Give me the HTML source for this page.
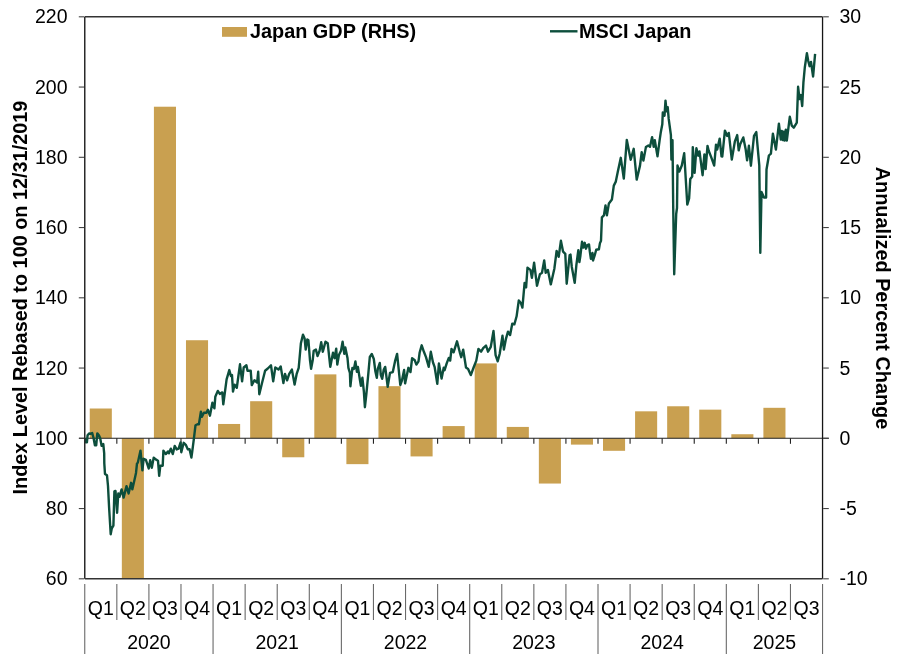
<!DOCTYPE html><html><head><meta charset="utf-8"><style>html,body{margin:0;padding:0;background:#fff;}svg{display:block;}text{font-family:"Liberation Sans",sans-serif;}</style></head><body>
<div style="will-change:transform"><svg width="900" height="654" viewBox="0 0 900 654">
<rect width="900" height="654" fill="#fff"/>
<g fill="#C9A050">
<rect x="89.75" y="408.51" width="22.08" height="29.79"/>
<rect x="121.83" y="438.30" width="22.08" height="140.50"/>
<rect x="153.91" y="106.72" width="22.08" height="331.58"/>
<rect x="185.98" y="340.23" width="22.08" height="98.07"/>
<rect x="218.06" y="423.97" width="22.08" height="14.33"/>
<rect x="250.14" y="401.21" width="22.08" height="37.09"/>
<rect x="282.22" y="438.30" width="22.08" height="18.97"/>
<rect x="314.30" y="374.37" width="22.08" height="63.93"/>
<rect x="346.38" y="438.30" width="22.08" height="25.85"/>
<rect x="378.45" y="386.17" width="22.08" height="52.13"/>
<rect x="410.53" y="438.30" width="22.08" height="18.12"/>
<rect x="442.61" y="426.08" width="22.08" height="12.22"/>
<rect x="474.69" y="363.41" width="22.08" height="74.89"/>
<rect x="506.77" y="426.92" width="22.08" height="11.38"/>
<rect x="538.85" y="438.30" width="22.08" height="45.24"/>
<rect x="570.92" y="438.30" width="22.08" height="6.32"/>
<rect x="603.00" y="438.30" width="22.08" height="12.50"/>
<rect x="635.08" y="411.32" width="22.08" height="26.98"/>
<rect x="667.16" y="406.27" width="22.08" height="32.03"/>
<rect x="699.24" y="409.64" width="22.08" height="28.66"/>
<rect x="731.32" y="434.23" width="22.08" height="4.07"/>
<rect x="763.39" y="407.81" width="22.08" height="30.49"/>
</g>
<g stroke="#222" stroke-width="1.1" fill="none">
<path d="M79,438.30H828.8"/>
<path d="M116.83,438.30V443.80"/>
<path d="M148.91,438.30V443.80"/>
<path d="M180.98,438.30V443.80"/>
<path d="M213.06,438.30V443.80"/>
<path d="M245.14,438.30V443.80"/>
<path d="M277.22,438.30V443.80"/>
<path d="M309.30,438.30V443.80"/>
<path d="M341.38,438.30V443.80"/>
<path d="M373.45,438.30V443.80"/>
<path d="M405.53,438.30V443.80"/>
<path d="M437.61,438.30V443.80"/>
<path d="M469.69,438.30V443.80"/>
<path d="M501.77,438.30V443.80"/>
<path d="M533.85,438.30V443.80"/>
<path d="M565.92,438.30V443.80"/>
<path d="M598.00,438.30V443.80"/>
<path d="M630.08,438.30V443.80"/>
<path d="M662.16,438.30V443.80"/>
<path d="M694.24,438.30V443.80"/>
<path d="M726.32,438.30V443.80"/>
<path d="M758.39,438.30V443.80"/>
<path d="M790.47,438.30V443.80"/>
</g>
<path d="M85.1,437.9 L85.8,442.3 L86.9,442.3 L87.6,435.2 L89.1,433.4 L90.4,433.9 L92.2,433.0 L93.6,438.3 L94.9,445.4 L96.2,445.4 L97.3,433.4 L98.9,435.2 L100.2,438.3 L101.6,445.9 L103.3,444.1 L104.2,453.4 L104.3,463.3 L105.0,474.0 L107.0,475.3 L108.0,486.0 L109.1,507.4 L110.2,525.6 L110.7,534.2 L111.8,528.3 L113.4,525.6 L114.4,491.4 L115.5,490.9 L117.1,512.8 L118.3,493.5 L119.5,496.8 L121.6,489.4 L123.6,497.6 L126.5,486.1 L128.6,493.5 L131.1,482.8 L132.3,489.4 L134.4,480.3 L136.0,472.9 L137.0,463.5 L137.8,462.7 L140.5,450.6 L142.4,470.4 L143.6,458.8 L145.9,459.9 L148.7,468.5 L150.2,460.3 L151.8,467.7 L153.7,457.6 L156.1,459.6 L158.0,460.7 L159.2,475.9 L160.3,465.8 L162.7,465.8 L163.4,450.6 L165.8,454.1 L168.1,451.4 L168.9,453.3 L170.8,448.7 L172.8,454.1 L174.7,445.9 L176.7,449.4 L178.6,448.7 L180.6,442.4 L181.3,452.2 L183.7,442.8 L186.0,445.2 L187.9,449.4 L189.5,449.1 L191.4,457.6 L192.2,451.8 L193.8,439.3 L195.5,425.2 L197.5,424.2 L198.9,424.2 L200.9,411.8 L201.9,416.7 L203.9,412.7 L206.4,412.7 L207.9,409.8 L209.9,415.7 L212.4,402.8 L214.4,408.3 L215.3,396.8 L217.8,390.9 L219.8,393.9 L222.3,392.4 L223.3,404.3 L226.6,379.3 L229.3,370.1 L230.9,376.0 L232.0,375.0 L233.0,391.6 L234.6,384.6 L236.8,387.8 L238.4,376.0 L240.0,364.3 L242.1,381.4 L243.7,367.5 L246.4,365.3 L247.5,370.7 L250.7,370.7 L251.8,385.1 L254.4,380.3 L257.1,382.5 L258.2,371.8 L259.3,394.2 L261.9,383.5 L265.1,370.7 L267.8,368.5 L271.0,365.3 L273.2,381.4 L275.3,367.5 L278.5,369.6 L280.7,366.4 L283.4,383.0 L285.0,373.9 L287.1,380.3 L289.2,373.9 L291.9,369.6 L294.6,384.6 L296.6,374.2 L298.7,367.8 L300.9,343.2 L303.0,334.6 L304.6,338.4 L305.7,349.6 L307.3,339.5 L308.4,340.0 L310.0,360.3 L311.1,368.9 L312.7,360.3 L313.7,350.7 L315.9,349.6 L317.5,356.0 L319.6,350.7 L321.2,342.1 L322.8,351.8 L325.5,341.6 L327.7,343.2 L330.3,366.8 L333.0,352.8 L334.6,358.2 L336.2,348.6 L337.3,364.6 L338.9,355.0 L341.0,350.7 L342.6,341.6 L344.3,353.9 L345.3,347.5 L347.5,358.0 L348.4,367.9 L349.9,372.9 L350.4,386.3 L352.4,367.9 L353.9,368.9 L355.4,361.4 L356.9,371.9 L357.9,366.9 L359.9,379.8 L360.9,385.8 L362.4,377.8 L363.9,391.8 L364.9,407.2 L366.3,394.7 L368.3,373.9 L369.8,357.0 L371.8,354.0 L373.8,359.0 L375.3,370.9 L376.8,377.8 L377.8,368.9 L379.8,362.9 L380.8,374.9 L382.2,378.8 L383.7,369.9 L385.2,366.9 L387.7,386.8 L390.0,372.9 L392.8,372.1 L395.0,361.4 L397.1,353.9 L400.3,385.0 L401.9,380.7 L404.1,370.0 L405.1,383.4 L408.4,367.8 L410.5,372.1 L412.1,358.2 L414.8,360.3 L416.4,364.6 L418.5,361.4 L419.6,352.8 L421.7,345.3 L423.9,351.8 L426.0,357.1 L428.7,366.8 L430.8,351.8 L433.0,362.5 L434.6,366.8 L437.3,383.9 L438.9,363.5 L441.6,378.5 L443.7,367.8 L444.6,370.2 L446.7,363.4 L448.8,357.9 L450.2,360.6 L451.5,348.9 L453.6,352.3 L457.0,341.3 L459.8,352.3 L461.2,357.2 L463.2,349.6 L466.0,367.5 L468.1,368.9 L470.8,375.1 L473.6,367.5 L476.3,360.6 L478.4,348.9 L481.1,351.7 L483.2,348.2 L486.0,345.5 L488.0,351.7 L490.8,346.8 L493.5,331.0 L495.6,355.1 L497.7,361.3 L499.7,353.7 L502.5,335.8 L503.9,349.6 L506.0,338.6 L508.0,331.7 L510.1,335.1 L512.3,323.6 L514.4,324.3 L516.6,316.3 L518.8,300.4 L521.0,303.3 L522.4,307.6 L524.6,282.9 L526.1,287.3 L527.5,267.7 L530.4,269.9 L531.9,277.9 L534.1,262.6 L537.0,285.8 L539.9,274.2 L542.0,272.8 L544.2,260.4 L545.7,272.8 L547.9,269.9 L550.8,284.4 L554.4,268.4 L556.6,251.0 L558.7,256.8 L560.9,240.8 L563.1,251.7 L565.3,253.9 L566.7,283.7 L569.6,255.3 L570.5,254.6 L571.8,267.0 L574.7,282.9 L576.4,264.8 L578.3,250.3 L579.4,262.1 L580.4,255.7 L582.0,241.8 L583.4,247.6 L584.7,242.8 L586.0,248.7 L587.4,245.0 L589.0,244.4 L589.8,251.4 L590.9,258.9 L592.5,253.0 L593.0,260.5 L594.6,255.7 L596.2,249.8 L598.9,249.3 L599.9,243.4 L601.0,240.7 L601.9,217.4 L603.9,215.4 L605.5,205.4 L606.9,215.4 L608.9,203.4 L611.9,199.5 L613.8,185.6 L615.8,181.6 L617.8,171.7 L620.8,157.8 L623.8,178.6 L626.8,139.9 L630.7,159.7 L633.7,148.8 L636.7,179.6 L640.0,165.6 L641.7,152.2 L643.4,160.6 L645.9,147.1 L648.4,145.5 L650.0,146.7 L652.1,137.1 L653.7,146.7 L654.8,140.3 L657.5,156.4 L659.6,140.3 L660.7,132.8 L662.3,124.3 L662.8,112.5 L664.5,115.7 L665.5,100.7 L666.6,111.4 L667.7,107.1 L668.7,118.9 L670.9,135.0 L671.4,159.6 L672.5,140.3 L673.2,205.9 L674.2,274.3 L676.2,214.0 L677.0,208.0 L677.5,165.5 L679.3,171.6 L681.8,165.5 L684.2,153.2 L687.3,204.6 L689.1,198.5 L690.3,178.9 L692.2,176.5 L692.8,147.1 L694.6,172.8 L696.4,148.3 L698.3,155.7 L699.5,151.4 L702.6,175.2 L704.4,154.4 L705.6,169.1 L707.5,145.9 L708.7,150.8 L711.1,156.9 L714.2,165.5 L716.0,144.7 L717.2,149.6 L719.7,138.6 L721.5,156.3 L722.3,156.5 L724.9,130.6 L727.2,135.9 L728.8,132.9 L731.8,159.6 L734.9,141.3 L737.2,135.1 L738.7,150.4 L740.2,144.3 L743.3,137.4 L745.6,148.9 L747.1,160.4 L748.9,145.8 L750.9,165.7 L754.0,135.9 L756.3,132.1 L759.3,165.7 L760.3,252.8 L761.5,192.0 L764.0,197.6 L766.1,197.6 L766.5,169.5 L768.9,155.5 L770.9,153.6 L772.9,133.7 L775.9,149.6 L778.9,123.7 L780.8,139.6 L781.8,131.0 L782.8,140.0 L783.8,131.7 L784.6,140.6 L785.8,129.7 L786.8,140.6 L789.8,116.8 L791.8,125.7 L793.8,127.7 L796.8,122.7 L798.1,86.8 L799.5,99.0 L800.9,95.1 L802.2,106.0 L803.4,82.7 L804.8,67.5 L806.9,53.1 L808.2,60.7 L809.6,66.2 L811.0,62.0 L813.1,76.5 L815.1,53.8" fill="none" stroke="#0D4E3C" stroke-width="2.4" stroke-linejoin="round"/>
<g fill="none">
<path d="M84.75,16.8V578.8" stroke="#2a2a2a" stroke-width="1.5"/>
<path d="M822.55,16.8V578.8" stroke="#151515" stroke-width="1.3"/>
<path d="M84.75,16.8H822.55" stroke="#333" stroke-width="1.5"/>
<path d="M84.75,578.8H822.55" stroke="#333" stroke-width="1.5"/>
<path d="M78.8,16.80H84.05" stroke="#444" stroke-width="1.1"/><path d="M823.15,16.80H828.8" stroke="#444" stroke-width="1.1"/>
<path d="M78.8,87.05H84.05" stroke="#444" stroke-width="1.1"/><path d="M823.15,87.05H828.8" stroke="#444" stroke-width="1.1"/>
<path d="M78.8,157.30H84.05" stroke="#444" stroke-width="1.1"/><path d="M823.15,157.30H828.8" stroke="#444" stroke-width="1.1"/>
<path d="M78.8,227.55H84.05" stroke="#444" stroke-width="1.1"/><path d="M823.15,227.55H828.8" stroke="#444" stroke-width="1.1"/>
<path d="M78.8,297.80H84.05" stroke="#444" stroke-width="1.1"/><path d="M823.15,297.80H828.8" stroke="#444" stroke-width="1.1"/>
<path d="M78.8,368.05H84.05" stroke="#444" stroke-width="1.1"/><path d="M823.15,368.05H828.8" stroke="#444" stroke-width="1.1"/>
<path d="M78.8,438.30H84.05" stroke="#444" stroke-width="1.1"/><path d="M823.15,438.30H828.8" stroke="#444" stroke-width="1.1"/>
<path d="M78.8,508.55H84.05" stroke="#444" stroke-width="1.1"/><path d="M823.15,508.55H828.8" stroke="#444" stroke-width="1.1"/>
<path d="M78.8,578.80H84.05" stroke="#444" stroke-width="1.1"/><path d="M823.15,578.80H828.8" stroke="#444" stroke-width="1.1"/>
</g>
<g stroke="#6a6a6a" stroke-width="1.1" fill="none">
<path d="M84.75,584V654"/>
<path d="M116.83,584V620"/>
<path d="M148.91,584V620"/>
<path d="M180.98,584V620"/>
<path d="M213.06,584V654"/>
<path d="M245.14,584V620"/>
<path d="M277.22,584V620"/>
<path d="M309.30,584V620"/>
<path d="M341.38,584V654"/>
<path d="M373.45,584V620"/>
<path d="M405.53,584V620"/>
<path d="M437.61,584V620"/>
<path d="M469.69,584V654"/>
<path d="M501.77,584V620"/>
<path d="M533.85,584V620"/>
<path d="M565.92,584V620"/>
<path d="M598.00,584V654"/>
<path d="M630.08,584V620"/>
<path d="M662.16,584V620"/>
<path d="M694.24,584V620"/>
<path d="M726.32,584V654"/>
<path d="M758.39,584V620"/>
<path d="M790.47,584V620"/>
<path d="M822.55,584V654"/>
</g>
<g font-size="19.5" fill="#000">
<text x="67.5" y="23.40" text-anchor="end">220</text>
<text x="67.5" y="93.65" text-anchor="end">200</text>
<text x="67.5" y="163.90" text-anchor="end">180</text>
<text x="67.5" y="234.15" text-anchor="end">160</text>
<text x="67.5" y="304.40" text-anchor="end">140</text>
<text x="67.5" y="374.65" text-anchor="end">120</text>
<text x="67.5" y="444.90" text-anchor="end">100</text>
<text x="67.5" y="515.15" text-anchor="end">80</text>
<text x="67.5" y="585.40" text-anchor="end">60</text>
<text x="839.5" y="23.40">30</text>
<text x="839.5" y="93.65">25</text>
<text x="839.5" y="163.90">20</text>
<text x="839.5" y="234.15">15</text>
<text x="839.5" y="304.40">10</text>
<text x="839.5" y="374.65">5</text>
<text x="839.5" y="444.90">0</text>
<text x="839.5" y="515.15">-5</text>
<text x="839.5" y="585.40">-10</text>
<text x="100.79" y="614.5" text-anchor="middle">Q1</text>
<text x="132.87" y="614.5" text-anchor="middle">Q2</text>
<text x="164.95" y="614.5" text-anchor="middle">Q3</text>
<text x="197.02" y="614.5" text-anchor="middle">Q4</text>
<text x="229.10" y="614.5" text-anchor="middle">Q1</text>
<text x="261.18" y="614.5" text-anchor="middle">Q2</text>
<text x="293.26" y="614.5" text-anchor="middle">Q3</text>
<text x="325.34" y="614.5" text-anchor="middle">Q4</text>
<text x="357.42" y="614.5" text-anchor="middle">Q1</text>
<text x="389.49" y="614.5" text-anchor="middle">Q2</text>
<text x="421.57" y="614.5" text-anchor="middle">Q3</text>
<text x="453.65" y="614.5" text-anchor="middle">Q4</text>
<text x="485.73" y="614.5" text-anchor="middle">Q1</text>
<text x="517.81" y="614.5" text-anchor="middle">Q2</text>
<text x="549.88" y="614.5" text-anchor="middle">Q3</text>
<text x="581.96" y="614.5" text-anchor="middle">Q4</text>
<text x="614.04" y="614.5" text-anchor="middle">Q1</text>
<text x="646.12" y="614.5" text-anchor="middle">Q2</text>
<text x="678.20" y="614.5" text-anchor="middle">Q3</text>
<text x="710.28" y="614.5" text-anchor="middle">Q4</text>
<text x="742.35" y="614.5" text-anchor="middle">Q1</text>
<text x="774.43" y="614.5" text-anchor="middle">Q2</text>
<text x="806.51" y="614.5" text-anchor="middle">Q3</text>
<text x="148.91" y="649" text-anchor="middle">2020</text>
<text x="277.22" y="649" text-anchor="middle">2021</text>
<text x="405.53" y="649" text-anchor="middle">2022</text>
<text x="533.85" y="649" text-anchor="middle">2023</text>
<text x="662.16" y="649" text-anchor="middle">2024</text>
<text x="774.43" y="649" text-anchor="middle">2025</text>
</g>
<g font-size="19.85" font-weight="bold" fill="#000">
<text transform="translate(27.4,297.6) rotate(-90)" text-anchor="middle">Index Level Rebased to 100 on 12/31/2019</text>
<text transform="translate(876.4,298) rotate(90)" text-anchor="middle">Annualized Percent Change</text>
<text x="250" y="37.8">Japan GDP (RHS)</text>
<text x="579" y="37.8">MSCI Japan</text>
</g>
<rect x="222" y="27" width="25" height="9.8" fill="#C9A050"/>
<path d="M550,31.3H577.5" stroke="#0D4E3C" stroke-width="2.4"/>
</svg></div></body></html>
